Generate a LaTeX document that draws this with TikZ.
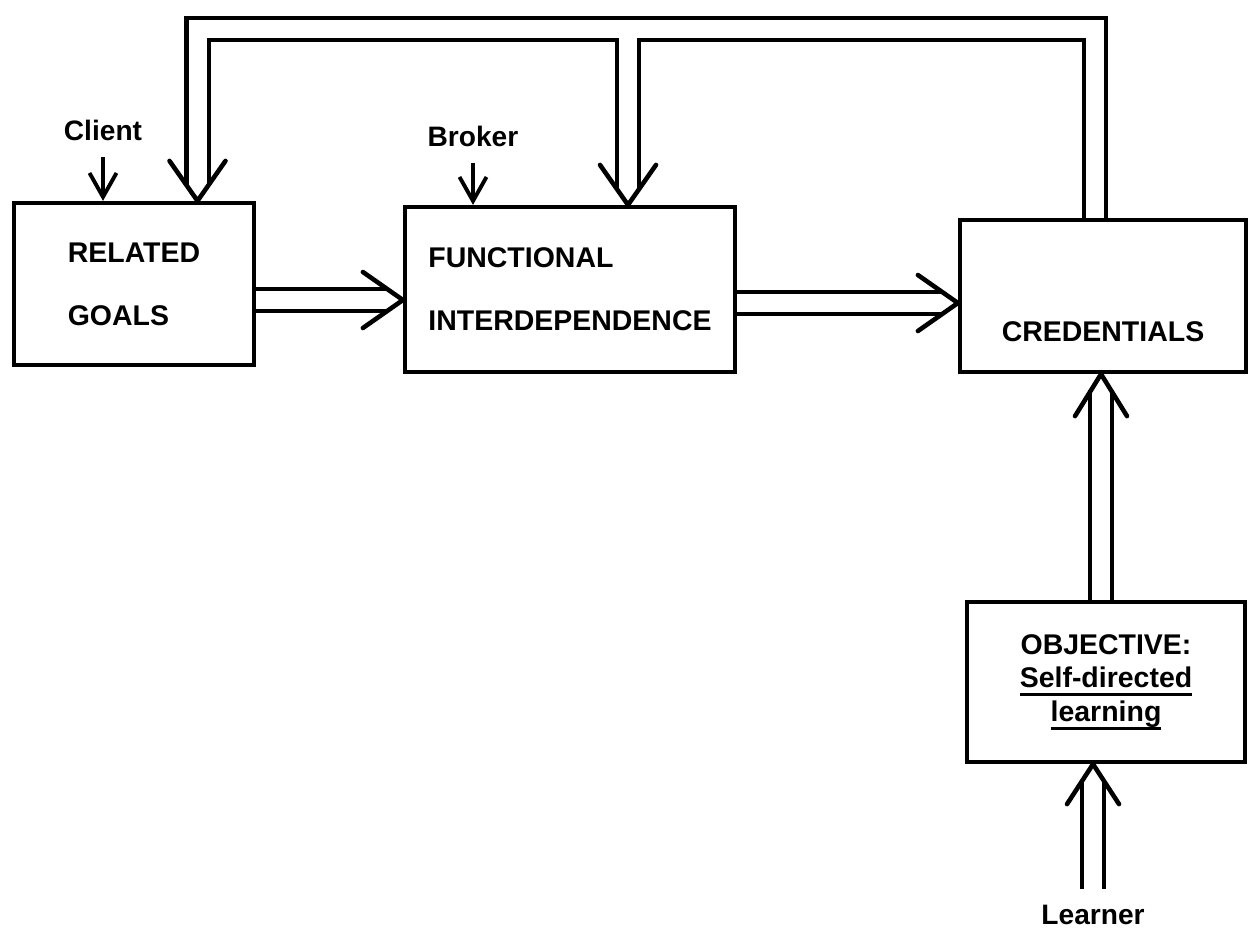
\documentclass[tikz,border=0pt]{standalone}
\usepackage{fontspec}
\setmainfont{Liberation Sans}
\usepackage{tikz}
\usetikzlibrary{calc,arrows.meta}
\newcommand{\thickul}[1]{\setbox0\hbox{#1}\rlap{\rule[-2.4pt]{\wd0}{0.9pt}}\box0}

\begin{document}
\begin{tikzpicture}[
    box/.style={draw, line width=1.2pt, inner sep=0pt, align=left,
        font=\fontsize{8.1}{18}\selectfont\bfseries},
    lbl/.style={inner sep=4.5pt, font=\fontsize{8}{10}\selectfont\bfseries},
    feed/.style={line width=1.1pt, -{Straight Barb[length=2.4mm, width=2.7mm]}},
    rail/.style={double, double distance=0.18cm, line width=1.2pt, shorten >=1.6mm},
    vhead/.style={line width=1.3pt, line join=round, line cap=round}
]
    % Page frame
    \useasboundingbox (0,0) rectangle (12.48,-9.35);

    % Boxes
    \node[box, minimum width=2.40cm, minimum height=1.62cm] (goals) at (1.34,-2.84) {RELATED\\GOALS};
    \node[box, minimum width=3.30cm, minimum height=1.65cm] (func) at (5.70,-2.895) {FUNCTIONAL\\INTERDEPENDENCE};
    \node[box, minimum width=2.86cm, minimum height=1.52cm, text height=26pt, text depth=0pt] (cred) at (11.03,-2.96) {CREDENTIALS};
    \node[box, minimum width=2.78cm, minimum height=1.60cm, align=center,
        font=\fontsize{8.1}{9.6}\selectfont\bfseries] (obj) at (11.06,-6.82)
        {OBJECTIVE:\\\thickul{Self-directed}\\\thickul{learning}};

    % Outside parties
    \node[lbl] (client) at (1.03,-1.30) {Client};
    \node[lbl] (broker) at (4.73,-1.36) {Broker};
    \node[lbl] (learner) at (10.93,-9.15) {Learner};

    \draw[feed] (client) -- (client |- goals.north);
    \draw[feed] (broker) -- (broker |- func.north);

    % Loop back from the credentials
    \coordinate (loopR) at (10.95,-0.29);
    \coordinate (loopM) at (6.28,-0.29);
    \coordinate (loopL) at (1.975,-0.29);
    \coordinate (tipGoals) at (loopL |- goals.north);
    \coordinate (tipFunc) at (loopM |- func.north);

    \draw[rail] (loopR |- cred.north) -- (loopR) -- (loopL) -- (tipGoals);
    \draw[rail] ([yshift=-0.09cm]loopM) -- (tipFunc);

    % Double arrows along the chain
    \coordinate (tipFuncW) at (func.west |- 0,-3.00);
    \coordinate (tipCredW) at (cred.west |- 0,-3.03);
    \coordinate (tipCredS) at (cred.south -| 11.01,0);
    \coordinate (tipObjS) at (learner |- obj.south);

    \draw[rail] (goals.east |- tipFuncW) -- (tipFuncW);
    \draw[rail] (func.east |- tipCredW) -- (tipCredW);
    \draw[rail] (obj.north -| tipCredS) -- (tipCredS);
    \draw[rail] (learner) -- (tipObjS);

    % Heads
    \draw[vhead] (tipGoals) ++(-0.28,0.40) -- (tipGoals) -- ++(0.28,0.40);
    \draw[vhead] (tipFunc) ++(-0.28,0.40) -- (tipFunc) -- ++(0.28,0.40);
    \draw[vhead] (tipFuncW) ++(-0.40,0.28) -- (tipFuncW) -- ++(-0.40,-0.28);
    \draw[vhead] (tipCredW) ++(-0.40,0.28) -- (tipCredW) -- ++(-0.40,-0.28);
    \draw[vhead] (tipCredS) ++(-0.26,-0.42) -- (tipCredS) -- ++(0.26,-0.42);
    \draw[vhead] (tipObjS) ++(-0.26,-0.40) -- (tipObjS) -- ++(0.26,-0.40);
\end{tikzpicture}
\end{document}
